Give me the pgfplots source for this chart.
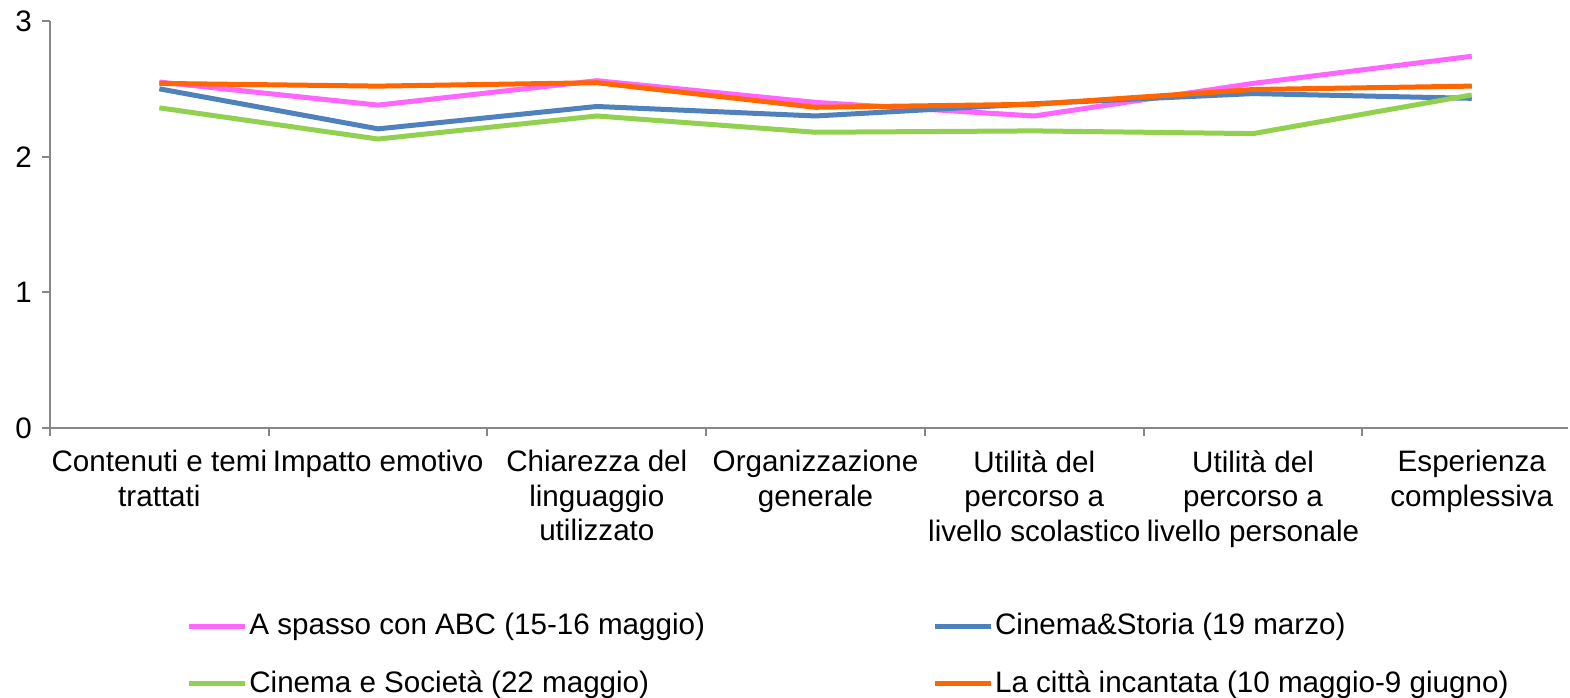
\documentclass[border=0pt]{standalone}
\usepackage{fontspec}
\setmainfont{Liberation Sans}
\usepackage{pgfplots}
\pgfplotsset{compat=1.18}
\definecolor{cpink}{HTML}{FF66FF}
\definecolor{cblue}{HTML}{4F81BD}
\definecolor{cgreen}{HTML}{92D050}
\definecolor{corange}{HTML}{FF6600}
\definecolor{axisgray}{HTML}{868686}
\begin{document}
\fontsize{14.8}{17}\selectfont
\begin{tikzpicture}
\begin{axis}[name=ax, at={(0,0)}, anchor=south west,
  scale only axis, width=759pt, height=203.5pt,
  xmin=0, xmax=6.94, ymin=0, ymax=3,
  axis x line=bottom, axis y line=left,
  axis line style={-, draw=axisgray, line width=1pt},
  xtick={0.5,1.5,2.5,3.5,4.5,5.5,6.5},
  minor xtick={0,1,2,3,4,5,6},
  major x tick style={draw=none},
  minor x tick style={draw=axisgray, line width=1pt},
  y tick style={draw=axisgray, line width=1pt},
  tick align=outside, major tick length=4pt, minor tick length=4pt,
  ytick={0,1,2,3},
  xticklabels={{Contenuti e temi\\trattati},{Impatto emotivo},{Chiarezza del\\linguaggio\\utilizzato},{Organizzazione\\generale},{Utilità del\\percorso a\\livello scolastico},{Utilità del\\percorso a\\livello personale},{Esperienza\\complessiva}},
  xticklabel style={align=center, font=\fontsize{14.8}{17.3}\selectfont, yshift=-2pt},
  yticklabel style={font=\fontsize{14.8}{17}\selectfont},
  /pgf/number format/assume math mode=true,
  legend style={at={(0.0856,-0.44)}, anchor=north west, draw=none, fill=none,
    legend columns=2, font=\fontsize{14.8}{17}\selectfont,
    /tikz/every even column/.append style={column sep=112.5pt},
    row sep=13.5pt, nodes={inner sep=1pt}},
  legend cell align=left,
  legend image code/.code={\draw[#1, line width=2.5pt] (0pt,0pt) -- (28pt,0pt);},
  every axis plot/.append style={line width=2.5pt, mark=none},
]
\addplot[cpink] coordinates {(0.5,2.55) (1.5,2.38) (2.5,2.56) (3.5,2.40) (4.5,2.30) (5.5,2.54) (6.5,2.74)};
\addlegendentry{A spasso con ABC (15-16 maggio)}
\addplot[cblue] coordinates {(0.5,2.50) (1.5,2.205) (2.5,2.37) (3.5,2.30) (4.5,2.39) (5.5,2.465) (6.5,2.43)};
\addlegendentry{Cinema\&Storia (19 marzo)}
\addplot[cgreen] coordinates {(0.5,2.36) (1.5,2.13) (2.5,2.30) (3.5,2.18) (4.5,2.19) (5.5,2.17) (6.5,2.455)};
\addlegendentry{Cinema e Società (22 maggio)}
\addplot[corange] coordinates {(0.5,2.54) (1.5,2.52) (2.5,2.545) (3.5,2.364) (4.5,2.386) (5.5,2.495) (6.5,2.52)};
\addlegendentry{La città incantata (10 maggio-9 giugno)}
\end{axis}
\pgfresetboundingbox
\path[use as bounding box] ([xshift=-25pt,yshift=-134.5pt]ax.south west) rectangle ([xshift=760pt,yshift=214pt]ax.south west);
\end{tikzpicture}
\end{document}
